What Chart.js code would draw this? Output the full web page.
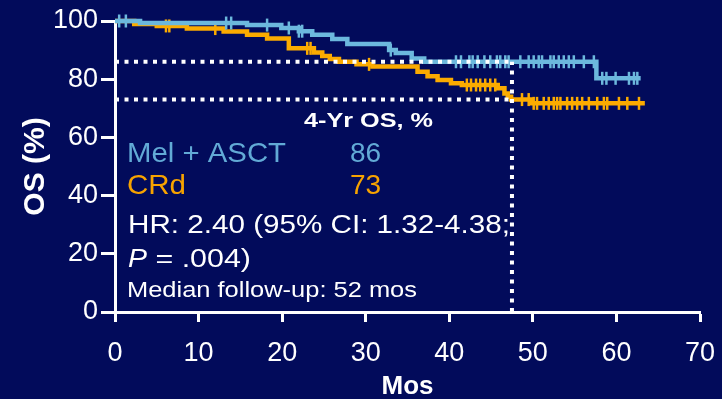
<!DOCTYPE html>
<html lang="en">
<head>
  <meta charset="UTF-8">
  <title>OS: Mel + ASCT vs CRd</title>
  <script src="https://cdn.jsdelivr.net/npm/chart.js"></script>
  <style>
    html, body {
      margin: 0;
      padding: 0;
      background: #020b5b;
    }
    .chart-box {
      position: relative;
      width: 722px;
      height: 399px;
    }
  </style>
</head>
<body>
  <div class="chart-box">
    <canvas id="osChart"></canvas>
  </div>
  <script>
    // Kaplan-Meier steps: time (months) and survival (%) after each step
    const melMonths = [0, 3.0, 15.8, 19.9, 22.0, 23.6, 26.0, 27.8, 32.8, 33.6, 35.5, 37.0, 57.6, 62.9];
    const melOS     = [100, 99.3, 98.6, 97.6, 96.5, 95.3, 93.8, 92.1, 90.0, 89.0, 87.1, 86.0, 80.3, 80.3];
    const crdMonths = [0, 2.3, 5.0, 8.6, 13.0, 15.8, 18.2, 20.8, 23.8, 24.8, 25.7, 26.8, 28.9, 30.8,
                       36.2, 37.4, 38.6, 40.2, 41.5, 45.8, 46.6, 47.0, 47.4, 49.8, 63.4];
    const crdOS     = [100, 99.0, 98.3, 97.4, 96.4, 95.3, 94.0, 90.6, 89.2, 88.0, 86.9, 86.0, 85.1, 84.4,
                       82.6, 81.0, 79.7, 78.6, 78.0, 76.9, 75.1, 74.0, 73.0, 71.7, 71.7];

    // censored patients (months)
    const melCensored = [0.5, 1.3, 13.3, 13.9, 18.2, 20.8, 22.0, 22.4, 33.0,
                         40.8, 41.4, 42.4, 42.8, 43.4, 44.2, 44.9, 45.7, 46.1, 46.7, 47.1,
                         48.5, 49.5, 50.1, 50.7, 51.1, 52.1, 52.5, 53.1, 53.7, 54.3, 54.9, 56.1, 57.3,
                         58.3, 58.8, 59.9, 61.5, 62.1, 62.5];
    const crdCensored = [6.1, 6.5, 12.0, 23.0, 23.4, 30.4,
                         42.1, 42.6, 43.2, 43.7, 44.3, 44.9, 45.5,
                         48.7, 49.5, 50.1, 50.5, 51.3, 51.9, 52.5, 52.9, 53.3, 54.1, 54.7, 55.3,
                         55.9, 56.7, 57.7, 58.5, 58.9, 60.3, 61.3, 62.7];

    // 4-year landmark
    const landmarkMonth = 47.5;
    const groupNames = ['Mel + ASCT', 'CRd'];
    const fourYrOS = [86, 73];

    const xTicks = [0, 10, 20, 30, 40, 50, 60, 70];
    const yTicks = [0, 20, 40, 60, 80, 100];

    const WHITE = '#ffffff';
    const MEL_LINE = '#6cb8dd', MEL_TEXT = '#62aad6';
    const CRD_LINE = '#fbab00', CRD_TEXT = '#f7a300';
    const FONT = "'Liberation Sans', Arial, sans-serif";

    function stepPoints(months, os) {
      return months.map((m, i) => ({ x: m, y: os[i] }));
    }

    // survival value at time t on a step curve
    function survivalAt(months, os, t) {
      let v = os[0];
      for (let i = 0; i < months.length; i++) {
        if (months[i] <= t) v = os[i];
      }
      return v;
    }

    function censorPoints(censored, months, os) {
      return censored.map(t => ({ x: t, y: survivalAt(months, os, t) }));
    }

    function curve(data, color, order) {
      return {
        type: 'line', data, order,
        borderColor: color, borderWidth: 4.5,
        stepped: true, pointRadius: 0, fill: false, clip: false
      };
    }

    function ticksSet(data, color, order) {
      return {
        type: 'scatter', data, order,
        pointStyle: 'line', rotation: 90, pointRadius: 6.5,
        borderColor: color, backgroundColor: color, borderWidth: 2.5,
        showLine: false, clip: false
      };
    }

    function dotted(data) {
      return {
        type: 'line', data, order: 0,
        borderColor: WHITE, borderWidth: 4, borderDash: [4, 5.5],
        borderCapStyle: 'butt', pointRadius: 0, fill: false, clip: false
      };
    }

    // draw text squeezed/stretched to a given width
    function fitText(ctx, str, x, y, font, color, width) {
      ctx.font = font;
      const w = ctx.measureText(str).width;
      ctx.save();
      ctx.translate(x, y);
      if (width) ctx.scale(width / w, 1);
      ctx.fillStyle = color;
      ctx.textAlign = 'left';
      ctx.textBaseline = 'alphabetic';
      ctx.fillText(str, 0, 0);
      ctx.restore();
    }

    const notesPlugin = {
      id: 'osNotes',
      afterDraw(chart) {
        const ctx = chart.ctx;
        fitText(ctx, '4-Yr OS, %', 304, 127, `bold 21px ${FONT}`, WHITE, 129);
        fitText(ctx, groupNames[0], 127, 162, `28px ${FONT}`, MEL_TEXT, 159);
        fitText(ctx, String(fourYrOS[0]), 350, 162, `28px ${FONT}`, MEL_TEXT);
        fitText(ctx, groupNames[1], 127, 194, `28px ${FONT}`, CRD_TEXT, 59);
        fitText(ctx, String(fourYrOS[1]), 350, 194, `28px ${FONT}`, CRD_TEXT);
        fitText(ctx, 'HR: 2.40 (95% CI: 1.32-4.38;', 128, 233, `25.5px ${FONT}`, WHITE, 382);
        fitText(ctx, 'P', 128, 267, `italic 26px ${FONT}`, WHITE, 19);
        fitText(ctx, ' = .004)', 147, 267, `26px ${FONT}`, WHITE, 104);
        fitText(ctx, 'Median follow-up: 52 mos', 127, 297, `22px ${FONT}`, WHITE, 290);
      }
    };

    const melSteps = stepPoints(melMonths, melOS);
    const crdSteps = stepPoints(crdMonths, crdOS);

    new Chart(document.getElementById('osChart'), {
      type: 'line',
      data: {
        datasets: [
          dotted([{ x: 0, y: fourYrOS[0] }, { x: landmarkMonth, y: fourYrOS[0] }]),
          dotted([{ x: 0, y: fourYrOS[1] }, { x: landmarkMonth, y: fourYrOS[1] }]),
          dotted([{ x: landmarkMonth, y: 0 }, { x: landmarkMonth, y: fourYrOS[0] }]),
          curve(melSteps, MEL_LINE, 1),
          ticksSet(censorPoints(melCensored, melMonths, melOS), MEL_LINE, 2),
          curve(crdSteps, CRD_LINE, 3),
          ticksSet(censorPoints(crdCensored, crdMonths, crdOS), CRD_LINE, 4)
        ]
      },
      options: {
        responsive: true,
        maintainAspectRatio: false,
        animation: false,
        layout: { padding: { top: 21, right: 22, left: 0, bottom: 0 } },
        plugins: {
          legend: { display: false },
          tooltip: { enabled: false }
        },
        scales: {
          x: {
            type: 'linear',
            min: 0, max: 70,
            afterFit: s => { s.height = 87; s.paddingLeft = 0; s.paddingRight = 0; },
            afterBuildTicks: s => { s.ticks = xTicks.map(v => ({ value: v })); },
            ticks: { color: WHITE, padding: 15, font: { family: FONT, size: 27 } },
            grid: {
              display: true, drawOnChartArea: false, drawTicks: true,
              tickLength: 10, tickColor: WHITE, tickWidth: 3
            },
            border: { display: true, color: WHITE, width: 3 },
            title: {
              display: true, text: 'Mos', color: WHITE,
              font: { family: FONT, size: 26, weight: 'bold' },
              padding: { top: 0, bottom: -3 }
            }
          },
          y: {
            type: 'linear',
            min: 0, max: 100,
            afterFit: s => { s.width = 115; },
            afterBuildTicks: s => { s.ticks = yTicks.map(v => ({ value: v })); },
            ticks: { color: WHITE, padding: 3, font: { family: FONT, size: 27 } },
            grid: {
              display: true, drawOnChartArea: false, drawTicks: true,
              tickLength: 14, tickColor: WHITE, tickWidth: 3
            },
            border: { display: true, color: WHITE, width: 3 },
            title: {
              display: true, text: 'OS (%)', color: WHITE,
              font: { family: FONT, size: 30, weight: 'bold' },
              padding: { top: 18, bottom: 0 }
            }
          }
        }
      },
      plugins: [notesPlugin]
    });
  </script>
</body>
</html>
